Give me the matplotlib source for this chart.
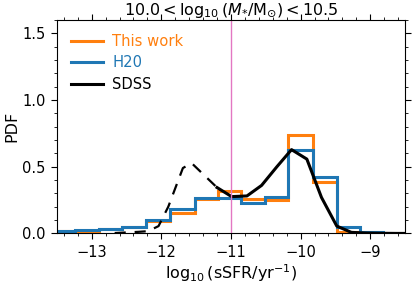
"""sSFR distribution in one stellar-mass bin: this work vs H20 vs SDSS."""
import matplotlib

matplotlib.use("Agg")
import matplotlib.pyplot as plt
from matplotlib.ticker import MultipleLocator

# bin edges (log10 sSFR / yr^-1)
edges = [-13.58, -13.24, -12.90, -12.56, -12.22, -11.88, -11.52, -11.18,
         -10.85, -10.51, -10.18, -9.82, -9.48, -9.15, -8.81, -8.47]
this_work = [0.015, 0.020, 0.030, 0.045, 0.090, 0.155, 0.260, 0.320,
             0.258, 0.250, 0.735, 0.385, 0.012, 0.005, 0.003]
h20 = [0.018, 0.025, 0.035, 0.050, 0.100, 0.185, 0.262, 0.262,
       0.230, 0.275, 0.628, 0.420, 0.048, 0.010, 0.005]

# SDSS curve: dashed below the completeness limit, solid above
sdss_lo_x = [-12.67, -12.33, -12.19, -12.04, -11.90, -11.69, -11.565, -11.20]
sdss_lo_y = [0.003, 0.012, 0.017, 0.055, 0.200, 0.490, 0.527, 0.344]
sdss_hi_x = [-11.20, -10.99, -10.77, -10.56, -10.34, -10.13, -9.91, -9.70,
             -9.48, -9.27, -9.05, -8.84, -8.62, -8.41]
sdss_hi_y = [0.344, 0.276, 0.281, 0.360, 0.500, 0.628, 0.557, 0.270,
             0.055, 0.008, 0.003, 0.001, 0.0, 0.0]

SSFR_CUT = -11.0

plt.rcParams["font.size"] = 10.5

fig, ax = plt.subplots(figsize=(4.15, 2.84), dpi=100)
fig.subplots_adjust(left=0.137, right=0.976, top=0.93, bottom=0.178)

ax.stairs(this_work, edges, color="#ff7f0e", lw=2.2, label="This work")
ax.stairs(h20, edges, color="#1f77b4", lw=2.2, label="H20")
ax.plot(sdss_lo_x, sdss_lo_y, color="k", lw=1.6, dashes=(5, 4))
ax.plot(sdss_hi_x, sdss_hi_y, color="k", lw=2.2, label="SDSS")
ax.axvline(SSFR_CUT, color="#e377c2", lw=1.0)

ax.set_xlim(-13.5, -8.5)
ax.set_ylim(0, 1.6)
ax.xaxis.set_major_locator(MultipleLocator(1))
ax.xaxis.set_minor_locator(MultipleLocator(0.2))
ax.yaxis.set_major_locator(MultipleLocator(0.5))
ax.yaxis.set_minor_locator(MultipleLocator(0.1))
ax.tick_params(which="both", direction="out", top=True, right=True)
ax.tick_params(which="major", length=4.5, width=0.8)
ax.tick_params(which="minor", length=2.5, width=0.6)

ax.set_xlabel(r"$\log_{10}(\mathrm{sSFR/yr^{-1}})$", fontsize=11.5, labelpad=2)
ax.set_ylabel("PDF", fontsize=11.5, labelpad=2)
ax.set_title(r"$10.0 < \log_{10}(M_{*}/\mathrm{M}_{\odot}) < 10.5$",
             fontsize=11.5, pad=3)

ax.legend(loc="upper left", frameon=False, labelcolor="linecolor",
          handlelength=2.2, handletextpad=0.6, labelspacing=0.45,
          borderaxespad=0.55, fontsize=10.6)

fig.savefig("out.png", dpi=100)
